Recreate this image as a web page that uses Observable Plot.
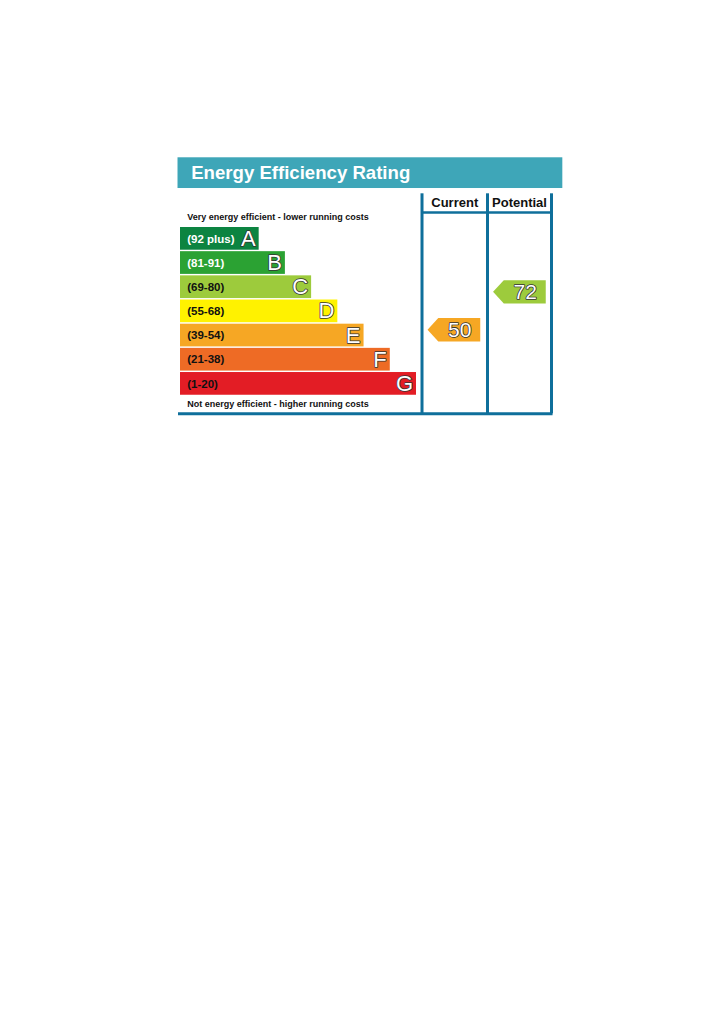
<!DOCTYPE html>
<html>
<head>
<meta charset="utf-8">
<script src="https://cdn.jsdelivr.net/npm/d3@7"></script>
<script src="https://cdn.jsdelivr.net/npm/@observablehq/plot@0.6"></script>
<style>
  html, body { margin: 0; padding: 0; background: #fff; }
</style>
</head>
<body>
<div id="chart"></div>
<script>
// ---- data ----
const title = "Energy Efficiency Rating";
const topNote = "Very energy efficient - lower running costs";
const bottomNote = "Not energy efficient - higher running costs";
const ratings = ["A", "B", "C", "D", "E", "F", "G"];
const rangeLabels = ["(92 plus)", "(81-91)", "(69-80)", "(55-68)", "(39-54)", "(21-38)", "(1-20)"];
const bandMin = [92, 81, 69, 55, 39, 21, 1];
const bandMax = [100, 91, 80, 68, 54, 38, 20];
const columns = ["Current", "Potential"];
const scores = [50, 72];

// ---- styles ----
const bandColors = ["#0c8441", "#2ba233", "#9dcb3c", "#fff200", "#f6a724", "#ee6b25", "#e31d25"];
const labelColors = ["#fff", "#fff", "#111", "#111", "#111", "#111", "#111"];
const teal = "#3ea6b8";
const frame = "#0f6f9b";
const font = "'Liberation Sans', Arial, Helvetica, sans-serif";

// ---- layout (x in band-length units, y in row units) ----
const barH = 0.94;                 // bar thickness within a row
const colEdges = [9.21, 11.708, 14.148];
const frameTop = -1.394, frameBottom = 7.708, headerLine = -0.62;
const arrowHalf = 0.484, tipOffset = 0.23, tipLen = 0.41, arrowLen = 2.01;

const bands = ratings.map((r, i) => ({
  rating: r, label: rangeLabels[i], i,
  len: i + 3, color: bandColors[i], labelColor: labelColors[i]
}));

function bandIndex(v) { return bandMin.findIndex((lo, i) => v >= lo && v <= bandMax[i]); }

const arrows = [];
const arrowLabels = [];
scores.forEach((v, c) => {
  const i = bandIndex(v);
  const f = (v - bandMin[i]) / (bandMax[i] - bandMin[i]);
  const yc = i + barH * (1 - f);
  const tip = colEdges[c] + tipOffset;
  const right = tip + arrowLen;
  const body = tip + tipLen;
  const color = bandColors[i];
  arrows.push({k: c, y: yc - arrowHalf, x1: body, x2: right, color});
  arrows.push({k: c, y: yc, x1: tip, x2: right, color});
  arrows.push({k: c, y: yc + arrowHalf, x1: body, x2: right, color});
  arrowLabels.push({x: (body + right) / 2, y: yc, text: String(v)});
});

const headers = columns.map((t, c) => ({text: t, x: (colEdges[c] + colEdges[c + 1]) / 2}));

const plot = Plot.plot({
  width: 724,
  height: 1024,
  margin: 0,
  style: {fontFamily: font, background: "#fff"},
  x: {domain: [0, 9], range: [180, 416], axis: null},
  y: {domain: [0, 7], range: [227, 227 + 7 * 24.171], axis: null},
  marks: [
    // title bar
    Plot.rect([title], {x1: -0.095, x2: 14.58, y1: -2.884, y2: -1.613, fill: teal}),
    Plot.text([title], {x: 0.408, y: -2.25, text: d => d, textAnchor: "start", fill: "#fff",
      fontSize: 18.6, fontWeight: "bold"}),
    // notes
    Plot.text([topNote], {x: 0.255, y: -0.43, text: d => d, textAnchor: "start", fill: "#111",
      fontSize: 9, fontWeight: "bold"}),
    Plot.text([bottomNote], {x: 0.255, y: 7.29, text: d => d, textAnchor: "start", fill: "#111",
      fontSize: 9, fontWeight: "bold"}),
    // bars
    Plot.rect(bands, {x1: 0, x2: "len", y1: "i", y2: d => d.i + barH, fill: "color"}),
    Plot.text(bands, {x: 0, y: d => d.i + barH / 2, text: "label", dx: 6.7, textAnchor: "start",
      fill: "labelColor", fontSize: 11.5, fontWeight: "bold"}),
    Plot.text(bands, {x: "len", y: d => d.i + barH / 2, text: "rating", dx: -3.5, textAnchor: "end",
      fill: "#fff", stroke: "#333", strokeWidth: 1.6, paintOrder: "stroke", fontSize: 22}),
    // frame
    Plot.ruleX(colEdges, {y1: frameTop, y2: frameBottom, stroke: frame, strokeWidth: 3}),
    Plot.ruleY([headerLine], {x1: colEdges[0], x2: colEdges[2], stroke: frame, strokeWidth: 2.5}),
    Plot.ruleY([frameBottom], {x1: -0.076, x2: colEdges[2] + 0.06, stroke: frame, strokeWidth: 3}),
    Plot.text(headers, {x: "x", y: -1.04, text: "text", fill: "#111", fontSize: 13, fontWeight: "bold"}),
    // arrows
    Plot.areaX(arrows, {x1: "x1", x2: "x2", y: "y", z: "k", fill: "color"}),
    Plot.text(arrowLabels, {x: "x", y: "y", text: "text", fill: "#fff", stroke: "#333", strokeWidth: 1.6,
      paintOrder: "stroke", fontSize: 21})
  ]
});
document.getElementById("chart").appendChild(plot);
</script>
</body>
</html>
